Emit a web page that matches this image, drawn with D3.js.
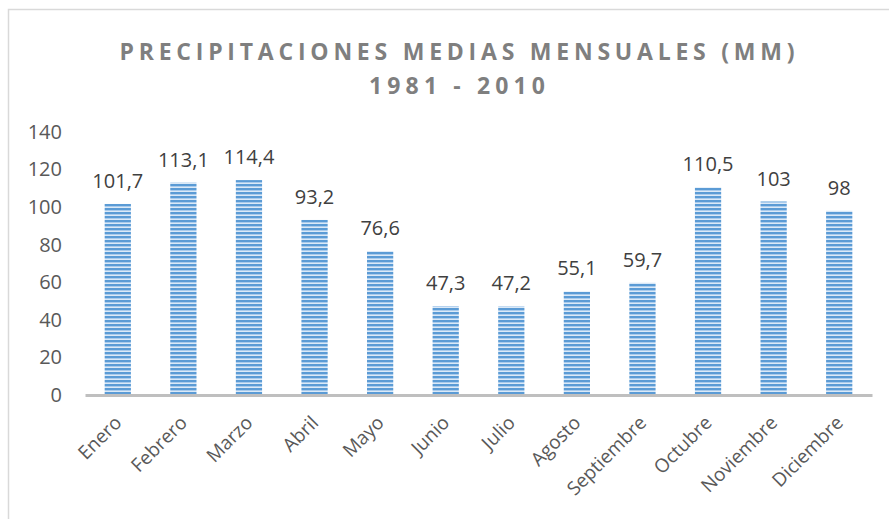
<!DOCTYPE html>
<html>
<head>
<meta charset="utf-8">
<script src="https://cdnjs.cloudflare.com/ajax/libs/d3/7.8.5/d3.min.js"></script>
<style>
  body { margin: 0; background: #fff; }
  svg { display: block; }
</style>
</head>
<body>
<div id="chart"></div>
<script>
const months = ["Enero", "Febrero", "Marzo", "Abril", "Mayo", "Junio", "Julio",
                "Agosto", "Septiembre", "Octubre", "Noviembre", "Diciembre"];
const rainfall = [101.7, 113.1, 114.4, 93.2, 76.6, 47.3, 47.2, 55.1, 59.7, 110.5, 103, 98];
const yTicks = [0, 20, 40, 60, 80, 100, 120, 140];
const titleLines = ["PRECIPITACIONES MEDIAS MENSUALES (MM)", "1981 - 2010"];
const titleWidths = [675, 176];

const W = 889, H = 519;
const margin = {top: 132, right: 17, bottom: 124, left: 85};
const width = W - margin.left - margin.right;
const height = H - margin.top - margin.bottom;
const font = "'Open Sans', sans-serif";

const svg = d3.select("#chart").append("svg")
    .attr("width", W).attr("height", H);

// stripes for the bars
const pat = svg.append("defs").append("pattern")
    .attr("id", "stripes")
    .attr("patternUnits", "userSpaceOnUse")
    .attr("width", 8).attr("height", 4);
pat.append("rect").attr("width", 8).attr("height", 4).attr("fill", "#5b9bd5");
pat.append("rect").attr("y", 2).attr("width", 8).attr("height", 1).attr("fill", "#a9cbec");
pat.append("rect").attr("y", 3).attr("width", 8).attr("height", 1).attr("fill", "#dbe9f7");

// outer frame
svg.append("rect")
    .attr("x", 8.5).attr("y", 9.5)
    .attr("width", W + 20).attr("height", H + 20)
    .attr("fill", "none").attr("stroke", "#d9d9d9").attr("stroke-width", 1.5);

const g = svg.append("g")
    .attr("transform", "translate(" + margin.left + "," + margin.top + ")");

const x = d3.scaleBand().domain(months).range([0, width]).paddingInner(0.6).paddingOuter(0.3);
const y = d3.scaleLinear().domain([0, 140]).range([height, 0]);

// title, spaced out to the width it has in the original
svg.append("g").selectAll("text")
    .data(titleLines)
    .join("text")
    .attr("x", 457)
    .attr("y", (d, i) => 60 + i * 34)
    .attr("text-anchor", "middle")
    .attr("textLength", (d, i) => titleWidths[i])
    .attr("lengthAdjust", "spacing")
    .style("font-family", font)
    .style("font-size", "23px")
    .style("font-weight", "bold")
    .attr("fill", "#7f7f7f")
    .text(d => d);

// y axis
const yAxis = d3.axisLeft(y).tickValues(yTicks).tickSize(0).tickPadding(23);
g.append("g").attr("class", "y-axis").call(yAxis)
    .call(s => s.select(".domain").remove())
    .selectAll("text")
    .style("font-family", font)
    .style("font-size", "20px")
    .attr("fill", "#595959");

// bars
g.selectAll(".bar")
    .data(rainfall)
    .join("rect")
    .attr("class", "bar")
    .attr("x", (d, i) => x(months[i]))
    .attr("y", d => y(d))
    .attr("width", x.bandwidth())
    .attr("height", d => height - y(d))
    .attr("fill", "url(#stripes)");

// value labels
g.selectAll(".val")
    .data(rainfall)
    .join("text")
    .attr("class", "val")
    .attr("x", (d, i) => x(months[i]) + x.bandwidth() / 2)
    .attr("y", d => y(d) - 16)
    .attr("text-anchor", "middle")
    .style("font-family", font)
    .style("font-size", "20px")
    .attr("fill", "#404040")
    .text(d => String(d).replace(".", ","));

// x axis
const xAxis = d3.axisBottom(x).tickSize(0).tickPadding(0);
const xg = g.append("g").attr("class", "x-axis")
    .attr("transform", "translate(0," + height + ")")
    .call(xAxis);
xg.select(".domain").attr("stroke", "#bfbfbf").attr("stroke-width", 3);
xg.selectAll("text")
    .attr("text-anchor", "end")
    .attr("dy", 0)
    .attr("transform", "translate(5,29) rotate(-45)")
    .style("font-family", font)
    .style("font-size", "19px")
    .attr("fill", "#595959");
</script>
</body>
</html>
